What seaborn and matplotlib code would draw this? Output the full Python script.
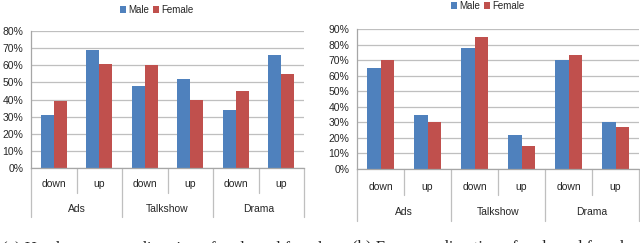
import matplotlib
matplotlib.use("Agg")
import matplotlib.pyplot as plt
import seaborn as sns
import pandas as pd
from matplotlib.ticker import PercentFormatter
from matplotlib.patches import Patch

sns.set_style("white")
plt.rcParams['font.family'] = ['Liberation Sans', 'DejaVu Sans']

groups = ["Ads", "Talkshow", "Drama"]
directions = ["down", "up"]
series = ["Male", "Female"]
head_male = [31, 69, 48, 52, 34, 66]
head_female = [39, 61, 60, 40, 45, 55]
gaze_male = [65, 35, 78, 22, 70, 30]
gaze_female = [70, 30, 85, 15, 73, 27]
colors = ["#4F81BD", "#C0504D"]
captions = ["(a) Head movement direction of male and female",
            "(b) Eye gaze direction of male and female"]

def make_df(male, female):
    rows = []
    cats = [f"{g}|{d}" for g in groups for d in directions]
    for c, m, f in zip(cats, male, female):
        rows.append({"cat": c, "series": "Male", "value": m})
        rows.append({"cat": c, "series": "Female", "value": f})
    return pd.DataFrame(rows), cats

fig = plt.figure(figsize=(6.4, 2.43), dpi=100)
W, H = 640, 243
FS = 7.5
TXT = "#262626"

panels = [
    dict(male=head_male, female=head_female, ymax=80,
         box=(31, 304, 31, 168), lab=(-0.117, -0.18, -0.30, -0.36), legy=10, legx=157),
    dict(male=gaze_male, female=gaze_female, ymax=90,
         box=(357, 639, 29, 169), lab=(-0.126, -0.186, -0.31, -0.37), legy=6, legx=488),
]

for i, p in enumerate(panels):
    x0, x1, yt, yb = p["box"]
    ax = fig.add_axes([x0 / W, 1 - yb / H, (x1 - x0) / W, (yb - yt) / H])
    df, cats = make_df(p["male"], p["female"])
    sns.barplot(data=df, x="cat", y="value", hue="series", order=cats,
                hue_order=series, palette=colors, width=0.58, ax=ax,
                legend=False, saturation=1, edgecolor="none")
    ax.set_ylim(0, p["ymax"])
    ax.set_yticks(range(0, p["ymax"] + 1, 10))
    ax.yaxis.set_major_formatter(PercentFormatter(decimals=0))
    ax.set_xlim(-0.5, 5.5)
    ax.set_xlabel("")
    ax.set_ylabel("")
    ax.set_xticks([])
    ax.grid(axis="y", color="#BFBFBF", linewidth=0.9)
    ax.set_axisbelow(True)
    for s in ["top", "right"]:
        ax.spines[s].set_visible(False)
    for s in ["left", "bottom"]:
        ax.spines[s].set_color("#A6A6A6")
        ax.spines[s].set_linewidth(0.9)
    ax.tick_params(axis="y", length=3, color="#BFBFBF", labelsize=FS,
                   pad=2.5, labelcolor=TXT)
    trans = ax.get_xaxis_transform()
    ldown, linner, lgrp, louter = p["lab"]
    for k, c in enumerate(cats):
        ax.text(k, ldown, c.split("|")[1], transform=trans, ha="center",
                va="center", fontsize=FS, color=TXT)
    for j, g in enumerate(groups):
        ax.text(2 * j + 0.5, lgrp, g, transform=trans, ha="center",
                va="center", fontsize=FS, color=TXT)
    for b in range(7):
        xb = b - 0.5
        bottom = louter if b % 2 == 0 else linner
        ax.plot([xb, xb], [0, bottom], transform=trans, color="#BFBFBF",
                linewidth=0.9, clip_on=False)
    handles = [Patch(facecolor=c, edgecolor="none") for c in colors]
    fig.legend(handles, series, loc="center", ncol=2,
               bbox_to_anchor=(p["legx"] / W, 1 - p["legy"] / H),
               frameon=False, fontsize=7, handlelength=0.6, handleheight=0.6,
               handletextpad=0.25, columnspacing=0.4, borderaxespad=0,
               labelcolor=TXT)
    fig.text((2 if i == 0 else 352) / W, -9 / H, captions[i],
             family="Liberation Serif", fontsize=12, ha="left", va="baseline")

fig.savefig("out.png", dpi=100)
